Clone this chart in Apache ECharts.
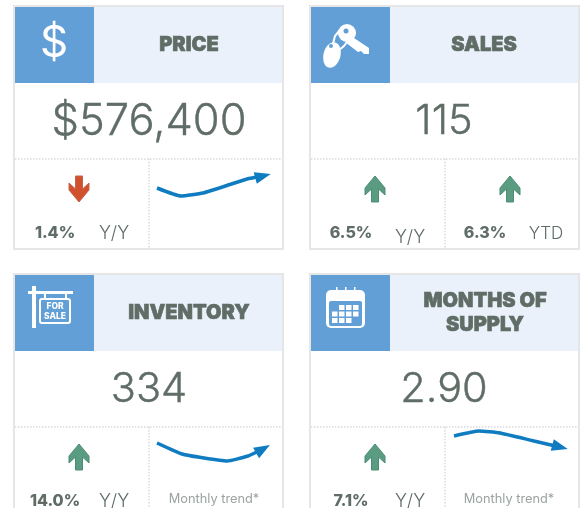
<!DOCTYPE html>
<html>
<head>
<meta charset="utf-8">
<style>html,body{margin:0;padding:0;background:#fff;overflow:hidden}#chart{width:584px;height:508px}</style>
<script src="https://cdn.jsdelivr.net/npm/echarts@6/dist/echarts.min.js"></script>
</head>
<body>
<div id="chart"></div>
<script>
// values
var titles = [['PRICE'], ['SALES'], ['INVENTORY'], ['MONTHS OF', 'SUPPLY']];
var mainValues = ['$576,400', '115', '334', '2.90'];
var leftChange = ['1.4%', '6.5%', '14.0%', '7.1%'];
var leftDirection = ['down', 'up', 'up', 'up'];
var rightChange = '6.3%';
var trendPrice = [[0, 12], [24, 4], [46, 7], [90, 21], [106, 24]];
var trendInventory = [[0, 22], [25, 11], [47, 7], [70, 4], [91, 9], [106, 16]];
var trendSupply = [[0, 19], [25, 24], [46, 22], [80, 14], [106, 8]];

var TEXT = '#5f6d66', GREY = '#9aa3a0', BLUE = '#619fd6', PALE = '#ebf1fa', EDGE = '#e6e6e6';
var FONT = 'Inter';

var cards = [
  { x: 14, y: 6 },
  { x: 310, y: 6 },
  { x: 14, y: 274 },
  { x: 310, y: 274 }
];

var g = [];

function text(str, x, y, size, weight, color, align, thicken) {
  var style = { text: str, x: x, y: y, fontSize: size, fontWeight: weight, fontFamily: FONT, fill: color, align: align || 'center', verticalAlign: 'middle' };
  if (thicken) { style.stroke = color; style.lineWidth = thicken; }
  g.push({ type: 'text', silent: true, style: style });
}
function rect(x, y, w, h, fill, r) {
  g.push({ type: 'rect', silent: true, shape: { x: x, y: y, width: w, height: h, r: r || 0 }, style: { fill: fill } });
}
function dotted(x1, y1, x2, y2) {
  g.push({
    type: 'line', silent: true, shape: { x1: x1, y1: y1, x2: x2, y2: y2 },
    style: { stroke: '#d9d9d9', lineWidth: 1.5, lineDash: [1.5, 1.5] }
  });
}
function arrow(cx, top, dir) {
  var pts = [[0, 0], [10, 12], [10, 19], [3.5, 13], [3.5, 26], [-3.5, 26], [-3.5, 13], [-10, 19], [-10, 12]];
  if (dir === 'down') pts = pts.map(function (p) { return [p[0], 26 - p[1]]; });
  g.push({
    type: 'polygon', silent: true,
    shape: { points: pts.map(function (p) { return [cx + p[0], top + p[1]]; }) },
    style: dir === 'down' ? { fill: '#d2512d', stroke: '#c2644a', lineWidth: 1 } : { fill: '#5a9c82', stroke: '#4d8d75', lineWidth: 1 }
  });
}

cards.forEach(function (c, i) {
  var x = c.x, y = c.y;
  // frame, lower cards run off the page
  g.push({
    type: 'rect', silent: true, shape: { x: x, y: y, width: 269, height: 243 },
    style: { fill: '#fff', stroke: EDGE, lineWidth: 2 }
  });
  rect(x + 1, y + 1, 267, 76, PALE);
  rect(x + 1, y + 1, 79, 76, BLUE);

  var lines = titles[i];
  if (lines.length === 1) {
    text(lines[0], x + (i === 1 ? 174 : 175), y + 39, 20, 900, TEXT, 'center', 0.6);
  } else {
    text(lines[0], x + 175, y + 27, 20, 900, TEXT, 'center', 0.6);
    text(lines[1], x + 175, y + 51, 20, 900, TEXT, 'center', 0.6);
  }

  text(mainValues[i], x + (i % 2 ? 134 : 135), y + 116, i === 0 ? 43.5 : 41.5, 300, TEXT, 'center', 0.4);

  dotted(x + 1, y + 153, x + 268, y + 153);
  dotted(x + 135, y + 153, x + 135, y + 243);

  arrow(x + 65, y + 170, leftDirection[i]);
  text(leftChange[i], x + 41, y + 227, 16, 800, TEXT);
  text('Y/Y', x + 100, y + (i === 1 ? 232 : 228), 18, 300, TEXT);
  if (i >= 2) text('Monthly trend*', x + (i === 2 ? 200 : 199), y + 225, 12.8, 400, GREY);
});

// sales has a second stat where the others have a trend
arrow(510, 176, 'up');
text(rightChange, 485, 233, 16, 800, TEXT);
text('YTD', 546, 234, 17, 300, TEXT);

// icons
text('$', 54, 44, 44, 400, '#fff');

// keys
g.push({ type: 'ellipse', silent: true, rotation: -0.25, originX: 332, originY: 55, shape: { cx: 332, cy: 55, rx: 8.5, ry: 13 }, style: { fill: '#fff' } });
g.push({ type: 'circle', silent: true, shape: { cx: 347, cy: 33, r: 9 }, style: { fill: '#fff' } });
g.push({ type: 'circle', silent: true, shape: { cx: 346, cy: 31, r: 2.5 }, style: { fill: BLUE } });
g.push({ type: 'circle', silent: true, shape: { cx: 331, cy: 46, r: 2 }, style: { fill: BLUE } });
g.push({ type: 'polygon', silent: true, shape: { points: [[351, 36], [369, 48], [369, 54], [364, 54], [361, 51], [358, 52], [345, 42]] }, style: { fill: '#fff' } });
g.push({ type: 'polyline', silent: true, shape: { points: [[333, 44], [335, 36], [340, 30]] }, style: { stroke: '#fff', lineWidth: 2, fill: null } });
g.push({ type: 'polyline', silent: true, shape: { points: [[339, 50], [344, 46], [347, 42]] }, style: { stroke: '#fff', lineWidth: 2, fill: null } });

// for sale sign
rect(32, 286, 4, 42, '#fff');
rect(28, 291, 45, 3, '#fff');
rect(44, 294, 2, 5, '#fff');
rect(65, 294, 2, 5, '#fff');
g.push({ type: 'rect', silent: true, shape: { x: 40, y: 299, width: 30, height: 24, r: 2 }, style: { fill: 'none', stroke: '#fff', lineWidth: 2 } });
text('FOR', 55, 306, 8.5, 800, '#fff');
text('SALE', 55, 316, 8.5, 800, '#fff');

// calendar
rect(326, 290, 39, 38, '#fff', 5);
rect(329, 301, 33, 25, BLUE, 2);
[338, 347, 356].forEach(function (rx) { rect(rx - 2, 287, 1.5, 7, '#fff'); });
[0, 1, 2].forEach(function (row) {
  [0, 1, 2, 3].forEach(function (col) {
    if ((row === 0 && col === 0) || (row === 2 && col === 3)) return;
    rect(332 + col * 7, 305 + row * 6.5, 5.5, 5, '#fff');
  });
});

function spark(idx, data, rotate) {
  return {
    type: 'line', xAxisIndex: idx, yAxisIndex: idx, smooth: 0.15, silent: true, z: 5, animation: false,
    lineStyle: { color: '#0f7cc1', width: 3.5 },
    itemStyle: { color: '#0f7cc1' },
    data: data.map(function (p, k) {
      return k === data.length - 1
        ? { value: p, symbol: 'triangle', symbolSize: [12, 16], symbolRotate: rotate }
        : { value: p, symbol: 'none' };
    })
  };
}

var grids = [
  { left: 157, top: 165, width: 113, height: 35 },
  { left: 157, top: 430, width: 113, height: 35 },
  { left: 454, top: 420, width: 113, height: 35 }
];
function axis(max) {
  return { type: 'value', min: 0, max: max, show: false };
}

var chart = echarts.init(document.getElementById('chart'), null, { renderer: 'canvas' });
chart.setOption({
  backgroundColor: '#fff',
  animation: false,
  grid: grids,
  xAxis: grids.map(function (gr, i) { return Object.assign({ gridIndex: i }, axis(113)); }),
  yAxis: grids.map(function (gr, i) { return Object.assign({ gridIndex: i }, axis(35)); }),
  graphic: g,
  series: [
    spark(0, trendPrice, -75),
    spark(1, trendInventory, -60),
    spark(2, trendSupply, -105)
  ]
});
</script>
</body>
</html>
